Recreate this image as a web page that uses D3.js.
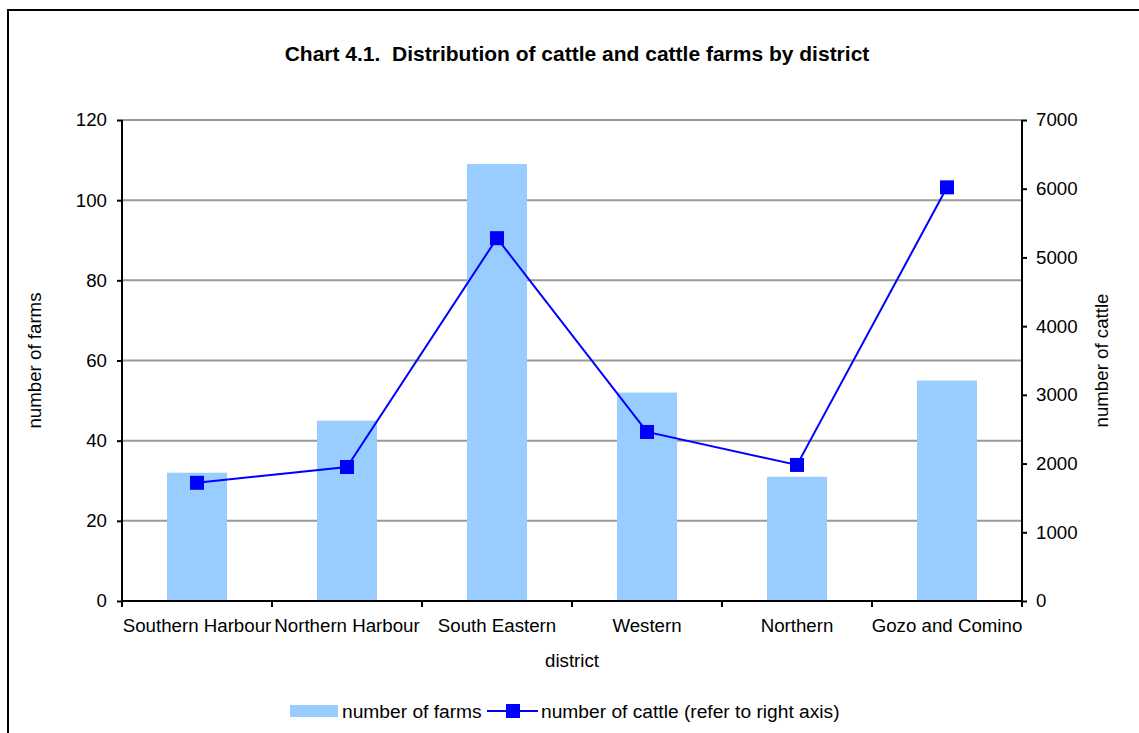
<!DOCTYPE html>
<html lang="en">
<head>
  <meta charset="UTF-8">
  <title>Chart 4.1</title>
  <script src="https://d3js.org/d3.v7.min.js"></script>
  <style>
    body { margin: 0; background: #fff; }
    text { font-family: "Liberation Sans", Arial, sans-serif; fill: #000; }
  </style>
</head>
<body>
  <svg></svg>
  <script>
    const districts = ["Southern Harbour", "Northern Harbour", "South Eastern", "Western", "Northern", "Gozo and Comino"];
    const farms = [32, 45, 109, 52, 31, 55];
    const cattle = [1720, 1950, 5280, 2460, 1980, 6020];
    const farmTicks = [0, 20, 40, 60, 80, 100, 120];
    const cattleTicks = [0, 1000, 2000, 3000, 4000, 5000, 6000, 7000];

    const width = 1139, height = 733;
    const plotLeft = 122, plotRight = 1022, plotTop = 120, plotBottom = 601;
    const fs = "18.7px";

    const svg = d3.select("svg")
        .attr("width", width)
        .attr("height", height);

    // frame (only top and left edges show in the picture)
    svg.append("path")
        .attr("d", `M8,${height} L8,10 L${width},10`)
        .attr("fill", "none")
        .attr("stroke", "#000")
        .attr("stroke-width", 2);

    svg.append("text")
        .attr("x", 577).attr("y", 61)
        .attr("text-anchor", "middle")
        .style("font-size", "21px")
        .style("font-weight", "bold")
        .style("white-space", "pre")
        .text("Chart 4.1.  Distribution of cattle and cattle farms by district");

    const x = d3.scaleBand().domain(districts).range([plotLeft, plotRight]);
    const yL = d3.scaleLinear().domain([0, 120]).range([plotBottom, plotTop]);
    const yR = d3.scaleLinear().domain([0, 7000]).range([plotBottom, plotTop]);

    // gridlines
    svg.append("g")
      .selectAll("line")
      .data(farmTicks.filter(d => d > 0))
      .join("line")
        .attr("x1", plotLeft).attr("x2", plotRight)
        .attr("y1", d => yL(d)).attr("y2", d => yL(d))
        .attr("stroke", "#999")
        .attr("stroke-width", 2);

    // bars
    const barW = x.bandwidth() * 0.4;
    svg.append("g")
      .selectAll("rect")
      .data(districts)
      .join("rect")
        .attr("x", d => x(d) + (x.bandwidth() - barW) / 2)
        .attr("width", barW)
        .attr("y", (d, i) => yL(farms[i]))
        .attr("height", (d, i) => plotBottom - yL(farms[i]))
        .attr("fill", "#99ccff");

    // axes
    const gL = svg.append("g")
        .attr("transform", `translate(${plotLeft},0)`)
        .call(d3.axisLeft(yL).tickValues(farmTicks).tickSize(5).tickPadding(10));
    const gR = svg.append("g")
        .attr("transform", `translate(${plotRight},0)`)
        .call(d3.axisRight(yR).tickValues(cattleTicks).tickFormat(d3.format("d")).tickSize(5).tickPadding(9));
    const gB = svg.append("g")
        .attr("transform", `translate(0,${plotBottom})`)
        .call(d3.axisBottom(x).tickSize(0).tickPadding(18));
    [gL, gR, gB].forEach(g => {
      g.select(".domain").attr("stroke", "#000").attr("stroke-width", 2);
      g.selectAll(".tick line").attr("stroke", "#000").attr("stroke-width", 2);
      g.selectAll(".tick text").style("font-family", "Liberation Sans, Arial, sans-serif").style("font-size", fs);
    });
    gL.select(".domain").attr("d", `M0,${plotTop} V${plotBottom + 2}`);
    gR.select(".domain").attr("d", `M0,${plotTop} V${plotBottom + 2}`);
    gB.select(".domain").attr("d", `M${plotLeft},0 H${plotRight}`);

    // category boundary ticks on the x axis
    const bounds = districts.map(d => x(d)).concat([plotRight]);
    svg.append("g")
      .selectAll("line")
      .data(bounds)
      .join("line")
        .attr("x1", d => d).attr("x2", d => d)
        .attr("y1", plotBottom).attr("y2", plotBottom + 6)
        .attr("stroke", "#000")
        .attr("stroke-width", 2);

    // cattle line
    const cx = d => x(d) + x.bandwidth() / 2;
    svg.append("path")
        .datum(districts)
        .attr("d", d3.line().x(cx).y((d, i) => yR(cattle[i])))
        .attr("fill", "none")
        .attr("stroke", "#0000ff")
        .attr("stroke-width", 2);
    svg.append("g")
      .selectAll("rect")
      .data(districts)
      .join("rect")
        .attr("x", d => cx(d) - 7)
        .attr("y", (d, i) => yR(cattle[i]) - 7)
        .attr("width", 14).attr("height", 14)
        .attr("fill", "#0000ff");

    // axis titles
    svg.append("text")
        .attr("transform", `translate(41,${(plotTop + plotBottom) / 2}) rotate(-90)`)
        .attr("text-anchor", "middle")
        .style("font-size", fs)
        .text("number of farms");
    svg.append("text")
        .attr("transform", `translate(1108,${(plotTop + plotBottom) / 2}) rotate(-90)`)
        .attr("text-anchor", "middle")
        .style("font-size", fs)
        .text("number of cattle");
    svg.append("text")
        .attr("x", 572).attr("y", 667)
        .attr("text-anchor", "middle")
        .style("font-size", fs)
        .text("district");

    // legend
    const lg = svg.append("g");
    lg.append("rect")
        .attr("x", 290).attr("y", 705).attr("width", 48).attr("height", 12)
        .attr("fill", "#99ccff");
    lg.append("text")
        .attr("x", 342).attr("y", 718)
        .style("font-size", "19.2px")
        .text("number of farms");
    lg.append("line")
        .attr("x1", 487).attr("x2", 538).attr("y1", 711).attr("y2", 711)
        .attr("stroke", "#0000ff").attr("stroke-width", 2);
    lg.append("rect")
        .attr("x", 506).attr("y", 704).attr("width", 14).attr("height", 14)
        .attr("fill", "#0000ff");
    lg.append("text")
        .attr("x", 541).attr("y", 718)
        .style("font-size", "19.2px")
        .text("number of cattle (refer to right axis)");
  </script>
</body>
</html>
